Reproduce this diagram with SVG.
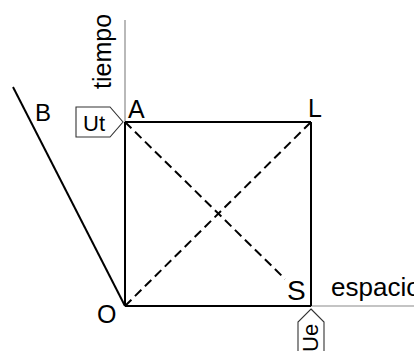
<svg xmlns="http://www.w3.org/2000/svg" width="414" height="351" viewBox="0 0 414 351">
<style>
.axis{stroke:#8a8a8a;stroke-width:1.2;fill:none}
.solid{stroke:#000;stroke-width:2;fill:none}
.dash{stroke:#000;stroke-width:2;fill:none;stroke-dasharray:9 5}
.lbl{font-family:"Liberation Sans",Arial,sans-serif;fill:#000}
.tag{fill:#fff;stroke:#333;stroke-width:1.1}
</style>
<rect width="414" height="351" fill="#fff"/>
<g id="connectors">
<line class="axis" x1="125" y1="20" x2="125" y2="122"/>
<line class="axis" x1="311" y1="306" x2="414" y2="306"/>
<line class="solid" x1="125" y1="122" x2="311" y2="122"/>
<line class="solid" x1="311" y1="122" x2="311" y2="306"/>
<line class="solid" x1="125" y1="306" x2="311" y2="306"/>
<line class="solid" x1="125" y1="122" x2="125" y2="306"/>
<line class="solid" x1="13" y1="87" x2="125" y2="306"/>
<line class="dash" x1="125" y1="306" x2="311" y2="122"/>
<line class="dash" x1="125" y1="122" x2="285" y2="279"/>
</g>
<g id="axis-labels">
<text class="lbl" font-size="25" transform="translate(111,89) rotate(-90)">tiempo</text>
<text class="lbl" font-size="26" x="331" y="296">espacio</text>
</g>
<g id="B"><text class="lbl" font-size="24" x="35" y="121">B</text></g>
<g id="A"><text class="lbl" font-size="25" x="128" y="118">A</text></g>
<g id="L"><text class="lbl" font-size="25" x="308" y="117">L</text></g>
<g id="O"><text class="lbl" font-size="25" x="97" y="323">O</text></g>
<g id="S"><text class="lbl" font-size="28" x="287" y="300">S</text></g>
<g id="Ut">
<polygon class="tag" points="76,107 110,107 123,122 110,137 76,137"/>
<text class="lbl" font-size="22" x="83" y="131">Ut</text>
</g>
<g id="Ue">
<polygon class="tag" points="311,309 324,322 324,355 298,355 298,322"/>
<text class="lbl" font-size="22" transform="translate(318,352) rotate(-90)">Ue</text>
</g>
</svg>
